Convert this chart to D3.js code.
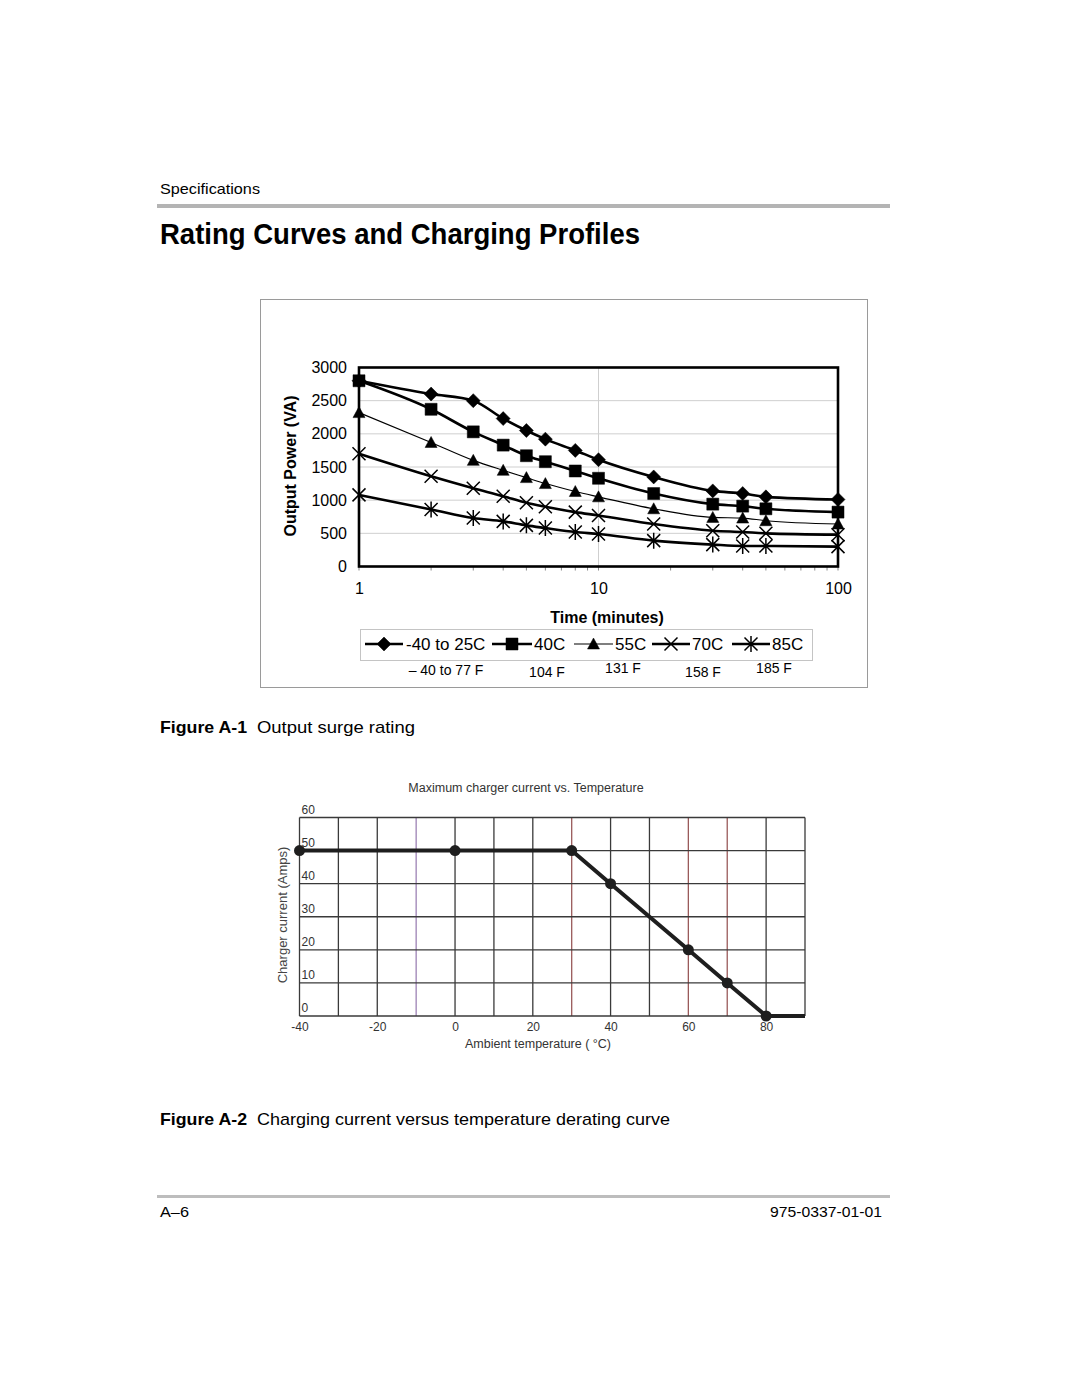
<!DOCTYPE html>
<html>
<head>
<meta charset="utf-8">
<script src="https://cdn.jsdelivr.net/npm/d3@7"></script>
<style>
  html, body { margin: 0; padding: 0; background: #fff; }
  svg { display: block; }
</style>
</head>
<body>
<svg id="page" width="1080" height="1397"></svg>
<script>
// ---------- DATA: Figure A-1 Output surge rating ----------
const times = [1, 2, 3, 4, 5, 6, 8, 10, 17, 30, 40, 50, 100];        // minutes
const s25 = [2800, 2600, 2500, 2230, 2050, 1920, 1750, 1610, 1350, 1140, 1100, 1050, 1010];
const s40 = [2800, 2370, 2030, 1830, 1670, 1580, 1440, 1330, 1100, 940, 910, 870, 820];
const s55 = [2320, 1870, 1600, 1450, 1340, 1250, 1130, 1050, 870, 740, 730, 690, 640];
const s70 = [1700, 1360, 1180, 1060, 960, 900, 820, 770, 640, 540, 520, 500, 480];
const s85 = [1080, 860, 730, 680, 620, 580, 520, 490, 390, 330, 310, 310, 300];
const seriesNames = ["-40 to 25C", "40C", "55C", "70C", "85C"];
const fahrenheitLabels = ["\u2013 40 to 77 F", "104 F", "131 F", "158 F", "185 F"];
const powerTicks = [0, 500, 1000, 1500, 2000, 2500, 3000];
const timeTicks = [1, 10, 100];

// ---------- DATA: Figure A-2 Charging current vs temperature ----------
const temps = [-40, 0, 30, 40, 60, 70, 80, 90];       // °C
const amps  = [50, 50, 50, 40, 20, 10, 0, 0];         // A
const markerTemps = [-40, 0, 30, 40, 60, 70, 80];
const ampTicks = [0, 10, 20, 30, 40, 50, 60];
const tempTicks = [-40, -20, 0, 20, 40, 60, 80];

const FONT = "Liberation Sans, Arial, Helvetica, sans-serif";
const svg = d3.select("#page");

// condensed-look page text: fitted to reference widths
function pageText(x, y, size, txt, width, opts = {}) {
  const t = svg.append("text").attr("x", x).attr("y", y).attr("font-size", size)
    .attr("font-family", FONT).attr("fill", "#000").text(txt)
    .attr("textLength", width).attr("lengthAdjust", "spacingAndGlyphs");
  if (opts.bold) t.attr("font-weight", "bold");
  if (opts.anchor) t.attr("text-anchor", opts.anchor);
  return t;
}

// ---------- Page header/footer ----------
pageText(160, 194, 15, "Specifications", 100);
svg.append("rect").attr("x", 157).attr("y", 204).attr("width", 733).attr("height", 4).attr("fill", "#b4b4b4");
pageText(160, 244, 30, "Rating Curves and Charging Profiles", 480, { bold: true });

pageText(160, 733, 17, "Figure A-1", 87, { bold: true });
pageText(257, 733, 17, "Output surge rating", 158);
pageText(160, 1125, 17, "Figure A-2", 87, { bold: true });
pageText(257, 1125, 17, "Charging current versus temperature derating curve", 413);

svg.append("rect").attr("x", 157).attr("y", 1195).attr("width", 733).attr("height", 3).attr("fill", "#bdbdbd");
pageText(160, 1217, 15, "A\u20136", 29);
pageText(770, 1217, 15, "975-0337-01-01", 112);

// ---------- Figure A-1 ----------
svg.append("rect").attr("x", 260.5).attr("y", 299.5).attr("width", 607).attr("height", 388)
  .attr("fill", "#fff").attr("stroke", "#9a9a9a").attr("stroke-width", 1);

const x1 = d3.scaleLog().domain([1, 100]).range([359, 838]);
const y1 = d3.scaleLinear().domain([0, 3000]).range([566.5, 367.5]);
const g1 = svg.append("g");

// gridlines
g1.selectAll(".hg").data(powerTicks.filter(d => d > 0 && d < 3000)).join("line")
  .attr("x1", x1(1)).attr("x2", x1(100)).attr("y1", d => y1(d)).attr("y2", d => y1(d))
  .attr("stroke", "#cfcfcf").attr("stroke-width", 1);
g1.append("line").attr("x1", x1(10)).attr("x2", x1(10)).attr("y1", y1(0)).attr("y2", y1(3000))
  .attr("stroke", "#cfcfcf").attr("stroke-width", 1);

// minor log ticks below axis
const minorTicks = x1.ticks(20);
g1.selectAll(".mt").data(minorTicks).join("line")
  .attr("x1", d => x1(d)).attr("x2", d => x1(d)).attr("y1", y1(0)).attr("y2", y1(0) + 4)
  .attr("stroke", "#888").attr("stroke-width", 1);

const yAxis1 = d3.axisLeft(y1).tickValues(powerTicks).tickSize(0).tickPadding(12).tickFormat(d => String(d));
g1.append("g").attr("transform", `translate(${x1(1)},0)`).call(yAxis1)
  .call(g => g.select(".domain").remove())
  .selectAll("text").attr("font-size", 16).attr("fill", "#000").attr("font-family", FONT);
const xAxis1 = d3.axisBottom(x1).tickValues(timeTicks).tickSize(0).tickPadding(16).tickFormat(d => String(d));
g1.append("g").attr("transform", `translate(0,${y1(0)})`).call(xAxis1)
  .call(g => g.select(".domain").remove())
  .selectAll("text").attr("font-size", 16).attr("fill", "#000").attr("font-family", FONT);

g1.append("text").attr("transform", "translate(296,466) rotate(-90)").attr("text-anchor", "middle")
  .attr("font-family", FONT).attr("font-weight", "bold").attr("font-size", 16)
  .text("Output Power (VA)");
g1.append("text").attr("x", 607).attr("y", 623).attr("text-anchor", "middle")
  .attr("font-family", FONT).attr("font-weight", "bold").attr("font-size", 16)
  .text("Time (minutes)");

// marker shapes
const markerPaths = {
  diamond: "M0,-7L7,0L0,7L-7,0Z",
  square: "M-6,-6H6V6H-6Z",
  triangle: "M0,-6L6,5L-6,5Z",
  cross: "M-6.5,-6.5L6.5,6.5M-6.5,6.5L6.5,-6.5",
  asterisk: "M-6.5,-6.5L6.5,6.5M-6.5,6.5L6.5,-6.5M0,-8V8"
};
const seriesDefs = [
  { values: s25, marker: "diamond", width: 2.6, fill: true },
  { values: s40, marker: "square", width: 2.6, fill: true },
  { values: s55, marker: "triangle", width: 1.1, fill: true },
  { values: s70, marker: "cross", width: 2.6, fill: false },
  { values: s85, marker: "asterisk", width: 2.6, fill: false }
];
const line1 = d3.line().x(d => x1(d[0])).y(d => y1(d[1])).curve(d3.curveMonotoneX);

seriesDefs.slice().reverse().forEach(s => {
  const pts = times.map((t, i) => [t, s.values[i]]);
  g1.append("path").datum(pts).attr("d", line1).attr("fill", "none")
    .attr("stroke", "#000").attr("stroke-width", s.width).attr("stroke-linejoin", "round");
  g1.selectAll(null).data(pts).join("path")
    .attr("transform", d => `translate(${x1(d[0])},${y1(d[1])})`)
    .attr("d", markerPaths[s.marker])
    .attr("fill", s.fill ? "#000" : "none")
    .attr("stroke", "#000").attr("stroke-width", s.fill ? 0.5 : 1.5);
});

// frame
g1.append("rect").attr("x", x1(1)).attr("y", y1(3000)).attr("width", x1(100) - x1(1)).attr("height", y1(0) - y1(3000))
  .attr("fill", "none").attr("stroke", "#000").attr("stroke-width", 2.6);

// legend
const lg = svg.append("g");
lg.append("rect").attr("x", 360.5).attr("y", 629.5).attr("width", 452).attr("height", 31)
  .attr("fill", "#fff").attr("stroke", "#c4c4c4").attr("stroke-width", 1);
const legendLayout = [
  { x0: 365, x1: 403, tx: 406 },
  { x0: 492, x1: 532, tx: 534 },
  { x0: 574, x1: 613, tx: 615 },
  { x0: 652, x1: 690, tx: 692 },
  { x0: 732, x1: 770, tx: 772 }
];
const fLayout = [ { x: 446, y: 675 }, { x: 547, y: 677 }, { x: 623, y: 673 }, { x: 703, y: 677 }, { x: 774, y: 673 } ];
seriesNames.forEach((name, i) => {
  const L = legendLayout[i], s = seriesDefs[i];
  const ly = 644;
  lg.append("line").attr("x1", L.x0).attr("x2", L.x1).attr("y1", ly).attr("y2", ly)
    .attr("stroke", "#000").attr("stroke-width", s.width);
  lg.append("path").attr("transform", `translate(${(L.x0 + L.x1) / 2},${ly})`).attr("d", markerPaths[s.marker])
    .attr("fill", s.fill ? "#000" : "none").attr("stroke", "#000").attr("stroke-width", s.fill ? 0.5 : 1.5);
  lg.append("text").attr("x", L.tx).attr("y", ly + 6).attr("font-size", 17)
    .attr("font-family", FONT).text(name);
  lg.append("text").attr("x", fLayout[i].x).attr("y", fLayout[i].y).attr("text-anchor", "middle")
    .attr("font-size", 14).attr("font-family", FONT).text(fahrenheitLabels[i]);
});

// ---------- Figure A-2 ----------
const x2 = d3.scaleLinear().domain([-40, 90]).range([299.5, 805]);
const y2 = d3.scaleLinear().domain([0, 60]).range([1016, 817.5]);
const g2 = svg.append("g");
const accent = { "-10": "#9d82b5", "30": "#9a5a5a", "60": "#9a5a5a", "70": "#9a5a5a" };
const vgrid = d3.range(-40, 91, 10);
g2.selectAll(".vg").data(vgrid).join("line")
  .attr("x1", d => x2(d)).attr("x2", d => x2(d)).attr("y1", y2(0)).attr("y2", y2(60))
  .attr("stroke", d => accent[d] || "#3a3a3a").attr("stroke-width", 1.3);
g2.selectAll(".hg").data(ampTicks).join("line")
  .attr("x1", x2(-40)).attr("x2", x2(90)).attr("y1", d => y2(d)).attr("y2", d => y2(d))
  .attr("stroke", "#3a3a3a").attr("stroke-width", 1.3);

g2.selectAll(".yl").data(ampTicks).join("text")
  .attr("x", x2(-40) + 2).attr("y", d => y2(d) - 4)
  .attr("font-size", 12).attr("fill", "#333").attr("font-family", FONT)
  .text(d => d);
const xAxis2 = d3.axisBottom(x2).tickValues(tempTicks).tickSize(0).tickPadding(6).tickFormat(d => String(d));
g2.append("g").attr("transform", `translate(0,${y2(0)})`).call(xAxis2)
  .call(g => g.select(".domain").remove())
  .selectAll("text").attr("font-size", 12).attr("fill", "#333").attr("font-family", FONT);

g2.append("text").attr("x", 526).attr("y", 792).attr("text-anchor", "middle").attr("font-size", 12.5)
  .attr("fill", "#333").attr("font-family", FONT)
  .text("Maximum charger current vs. Temperature");
g2.append("text").attr("x", 538).attr("y", 1048).attr("text-anchor", "middle").attr("font-size", 12.5)
  .attr("fill", "#333").attr("font-family", FONT)
  .text("Ambient temperature ( \u00B0C)");
g2.append("text").attr("transform", "translate(287,915) rotate(-90)").attr("text-anchor", "middle").attr("font-size", 13)
  .attr("fill", "#444").attr("font-family", FONT)
  .text("Charger current (Amps)");

const line2 = d3.line().x(d => x2(d[0])).y(d => y2(d[1]));
const pts2 = temps.map((t, i) => [t, amps[i]]);
g2.append("path").datum(pts2).attr("d", line2).attr("fill", "none")
  .attr("stroke", "#1e1e1e").attr("stroke-width", 4).attr("stroke-linejoin", "round");
g2.selectAll(".dot").data(pts2.filter(d => markerTemps.includes(d[0]))).join("circle")
  .attr("cx", d => x2(d[0])).attr("cy", d => y2(d[1])).attr("r", 5.5).attr("fill", "#1e1e1e");
</script>
</body>
</html>
